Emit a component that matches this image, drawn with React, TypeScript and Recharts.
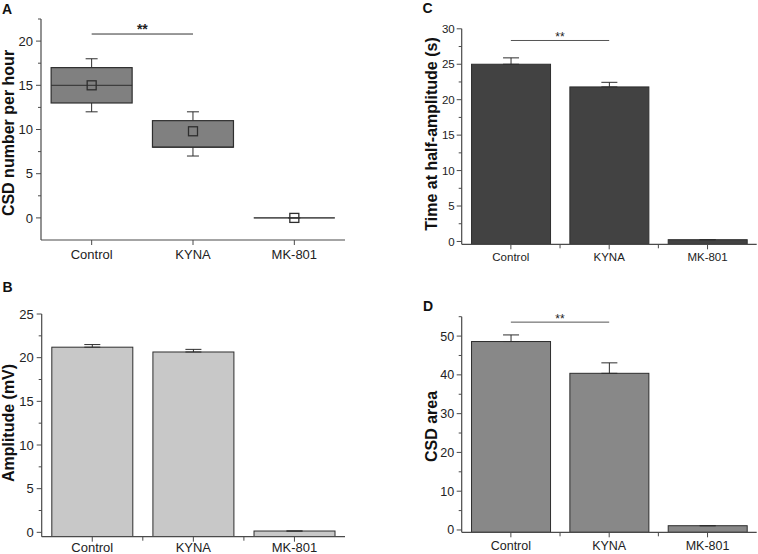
import { Bar, ComposedChart, ErrorBar, Line, ReferenceLine, XAxis, YAxis } from "recharts";

const FONT = '"Liberation Sans", Arial, Helvetica, sans-serif';
const AXIS = "#4a4a4a";
const INK = "#222";
const EDGE = "#2e2e2e";

const groups = ["Control", "KYNA", "MK-801"];

// A - CSD number per hour (box plot)
const csdMin = [12, 7, 0];
const csdQ1 = [13, 8, 0];
const csdMedian = [15, 8, 0];
const csdQ3 = [17, 11, 0];
const csdMax = [18, 12, 0];
const csdMean = [15, 9.8, 0];

// B - amplitude (mV)
const amplitude = [21.2, 20.65, 0.15];
const amplitudeErr = [0.3, 0.3, 0];

// C - time at half-amplitude (s)
const halfTime = [25, 21.8, 0.25];
const halfTimeErr = [0.9, 0.65, 0];

// D - CSD area
const csdArea = [48.6, 40.4, 1.1];
const csdAreaErr = [1.7, 2.7, 0];

// y ticks (major ones get a label)
const ticksA = [0, 2.5, 5, 7.5, 10, 12.5, 15, 17.5, 20, 22.5];
const ticksB = [0, 2.5, 5, 7.5, 10, 12.5, 15, 17.5, 20, 22.5, 25];
const ticksC = [0, 2.5, 5, 7.5, 10, 12.5, 15, 17.5, 20, 22.5, 25, 27.5, 30];
const ticksD = [0, 5, 10, 15, 20, 25, 30, 35, 40, 45, 50, 55];

// significance bars (Control vs KYNA)
const sigA = 20.8;
const sigC = 28.35;
const sigD = 53.6;

const boxData = groups.map((name, i) => ({
  name,
  whisker: [csdMin[i], csdMax[i]],
  box: [csdQ1[i], csdQ3[i]],
  median: [csdMedian[i], csdMedian[i]],
  mean: csdMean[i],
}));

const toBars = (values: number[], errs: number[]) =>
  groups.map((name, i) => ({ name, value: values[i], err: [0, errs[i]] }));

const dataB = toBars(amplitude, amplitudeErr);
const dataC = toBars(halfTime, halfTimeErr);
const dataD = toBars(csdArea, csdAreaErr);

function makeYTick(major: number, fontSize: number, gap: number) {
  return function YTick(props: any) {
    const { x, y, payload } = props;
    const v = payload.value;
    const isMajor = Math.abs(v / major - Math.round(v / major)) < 1e-6;
    return (
      <g>
        <line x1={x - (isMajor ? 5 : 3)} x2={x} y1={y} y2={y} stroke={AXIS} strokeWidth={1} />
        {isMajor && (
          <text x={x - gap} y={y} dy="0.36em" textAnchor="end" fontSize={fontSize} fill={INK} fontFamily={FONT}>
            {v}
          </text>
        )}
      </g>
    );
  };
}

function makeXTick(fontSize: number, gap: number, boundaries: boolean) {
  return function XTick(props: any) {
    const { x, y, payload } = props;
    const half = payload && payload.offset ? payload.offset : 0;
    const last = payload.value === groups[groups.length - 1];
    return (
      <g>
        <line x1={x} x2={x} y1={y} y2={y + 5} stroke={AXIS} strokeWidth={1} />
        {boundaries && half > 0 && !last && (
          <line x1={x + half} x2={x + half} y1={y} y2={y + 4} stroke={AXIS} strokeWidth={1} />
        )}
        <text x={x} y={y + gap} dy="0.71em" textAnchor="middle" fontSize={fontSize} fill={INK} fontFamily={FONT}>
          {payload.value}
        </text>
      </g>
    );
  };
}

// bars run down to the bottom of the plot, like the original
function Column(props: any) {
  const { x, y, width, height, fill, background } = props;
  const bottom = background ? background.y + background.height : y + height;
  return <rect x={x} y={y} width={width} height={Math.max(bottom - y, 0)} fill={fill} stroke={EDGE} strokeWidth={1} />;
}

function Whisker(props: any) {
  const { x, y, width, height } = props;
  const cx = x + width / 2;
  return (
    <g stroke={EDGE} strokeWidth={1}>
      <line x1={cx} x2={cx} y1={y} y2={y + height} />
      <line x1={cx - 6} x2={cx + 6} y1={y} y2={y} />
      <line x1={cx - 6} x2={cx + 6} y1={y + height} y2={y + height} />
    </g>
  );
}

function BoxShape(props: any) {
  const { x, y, width, height } = props;
  if (height < 0.5) {
    return <line x1={x} x2={x + width} y1={y} y2={y} stroke="#555" strokeWidth={1} />;
  }
  return <rect x={x} y={y} width={width} height={height} fill="#808080" stroke={EDGE} strokeWidth={1.2} />;
}

function MedianShape(props: any) {
  const { x, y, width } = props;
  return <line x1={x} x2={x + width} y1={y} y2={y} stroke={EDGE} strokeWidth={1} />;
}

const axisLine = { stroke: AXIS, strokeWidth: 1.2 };

function PanelA() {
  return (
    <ComposedChart width={360} height={270} data={boxData} margin={{ top: 19, right: 15, left: 0, bottom: 0 }}>
      <XAxis xAxisId="main" dataKey="name" height={30} axisLine={axisLine} tickLine={false} tickSize={0} tickMargin={0} tick={makeXTick(13, 9.5, false)} interval={0} />
      <XAxis xAxisId="w" dataKey="name" height={0} hide />
      <XAxis xAxisId="b" dataKey="name" height={0} hide />
      <XAxis xAxisId="m" dataKey="name" height={0} hide />
      <YAxis type="number" domain={[-2.5, 22.5]} ticks={ticksA} width={41} axisLine={axisLine} tickLine={false} tickSize={0} tickMargin={0} tick={makeYTick(5, 13, 8)} interval={0} allowDataOverflow />
      <Bar xAxisId="w" dataKey="whisker" shape={Whisker} isAnimationActive={false} />
      <Bar xAxisId="b" dataKey="box" shape={BoxShape} isAnimationActive={false} />
      <Bar xAxisId="m" dataKey="median" shape={MedianShape} isAnimationActive={false} />
      <Line
        xAxisId="main"
        dataKey="mean"
        stroke="none"
        activeDot={false}
        isAnimationActive={false}
        dot={(p: any) => (
          <rect key={`mean-${p.index}`} x={p.cx - 4.5} y={p.cy - 4.5} width={9} height={9} fill="none" stroke={EDGE} strokeWidth={1.3} />
        )}
      />
      <ReferenceLine
        xAxisId="main"
        segment={[{ x: "Control", y: sigA }, { x: "KYNA", y: sigA }]}
        stroke="#333"
        strokeWidth={1}
        label={{ value: "**", position: "top", offset: 0, fontSize: 14, fontWeight: "bold", fill: INK, fontFamily: FONT }}
      />
    </ComposedChart>
  );
}

function BarPanel(props: {
  data: any[];
  width: number;
  height: number;
  top: number;
  right: number;
  yWidth: number;
  xHeight: number;
  domain: [number, number];
  ticks: number[];
  major: number;
  fill: string;
  font: number;
  yGap: number;
  xGap: number;
  sig?: number;
  sigFont?: number;
}) {
  const p = props;
  return (
    <ComposedChart width={p.width} height={p.height} data={p.data} margin={{ top: p.top, right: p.right, left: 0, bottom: 0 }}>
      <XAxis dataKey="name" height={p.xHeight} axisLine={axisLine} tickLine={false} tickSize={0} tickMargin={0} tick={makeXTick(p.font, p.xGap, true)} interval={0} />
      <YAxis type="number" domain={p.domain} ticks={p.ticks} width={p.yWidth} axisLine={axisLine} tickLine={false} tickSize={0} tickMargin={0} tick={makeYTick(p.major, p.font, p.yGap)} interval={0} allowDataOverflow />
      <Bar dataKey="value" fill={p.fill} shape={Column} isAnimationActive={false}>
        <ErrorBar dataKey="err" direction="y" width={8} stroke={EDGE} strokeWidth={1} />
      </Bar>
      {p.sig !== undefined && (
        <ReferenceLine
          segment={[{ x: "Control", y: p.sig }, { x: "KYNA", y: p.sig }]}
          stroke="#555"
          strokeWidth={1}
          label={{ value: "**", position: "top", offset: -1, fontSize: p.sigFont ?? 12, fill: INK, fontFamily: FONT }}
        />
      )}
    </ComposedChart>
  );
}

const titleStyle = { fontFamily: FONT, fontWeight: "bold" as const, fill: "#111" };

export default function App() {
  return (
    <div style={{ position: "absolute", left: 0, top: 0, width: 758, height: 554, background: "#fff", overflow: "hidden" }}>
      <div style={{ position: "absolute", left: 0, top: 0 }}>
        <PanelA />
      </div>
      <div style={{ position: "absolute", left: 0, top: 270 }}>
        <BarPanel data={dataB} width={360} height={284} top={44} right={15} yWidth={41.7} xHeight={17.3} domain={[-0.5, 25]} ticks={ticksB} major={5} fill="#c8c8c8" font={13} yGap={8} xGap={6.5} />
      </div>
      <div style={{ position: "absolute", left: 380, top: 0 }}>
        <BarPanel data={dataC} width={378} height={270} top={28.8} right={1.3} yWidth={81.7} xHeight={25.7} domain={[-0.4, 30]} ticks={ticksC} major={5} fill="#424242" font={11.5} yGap={7} xGap={9} sig={sigC} sigFont={12} />
      </div>
      <div style={{ position: "absolute", left: 380, top: 270 }}>
        <BarPanel data={dataD} width={378} height={284} top={46.7} right={1.3} yWidth={81.7} xHeight={21.7} domain={[-0.6, 55]} ticks={ticksD} major={10} fill="#888888" font={12.5} yGap={7.5} xGap={9.3} sig={sigD} sigFont={12} />
      </div>
      <svg width={758} height={554} style={{ position: "absolute", left: 0, top: 0, pointerEvents: "none" }}>
        <text x={2} y={13.5} fontSize={14} {...titleStyle}>A</text>
        <text x={2.5} y={292} fontSize={14} {...titleStyle}>B</text>
        <text x={422.5} y={12.5} fontSize={14} {...titleStyle}>C</text>
        <text x={423} y={310.5} fontSize={14} {...titleStyle}>D</text>
        <text x={13.5} y={133} fontSize={16} textAnchor="middle" transform="rotate(-90 13.5 133)" {...titleStyle}>CSD number per hour</text>
        <text x={13.5} y={423} fontSize={16} textAnchor="middle" transform="rotate(-90 13.5 423)" {...titleStyle}>Amplitude (mV)</text>
        <text x={437} y={134} fontSize={16} textAnchor="middle" transform="rotate(-90 437 134)" {...titleStyle}>Time at half-amplitude (s)</text>
        <text x={436.5} y={426.5} fontSize={16} textAnchor="middle" transform="rotate(-90 436.5 426.5)" {...titleStyle}>CSD area</text>
      </svg>
    </div>
  );
}
